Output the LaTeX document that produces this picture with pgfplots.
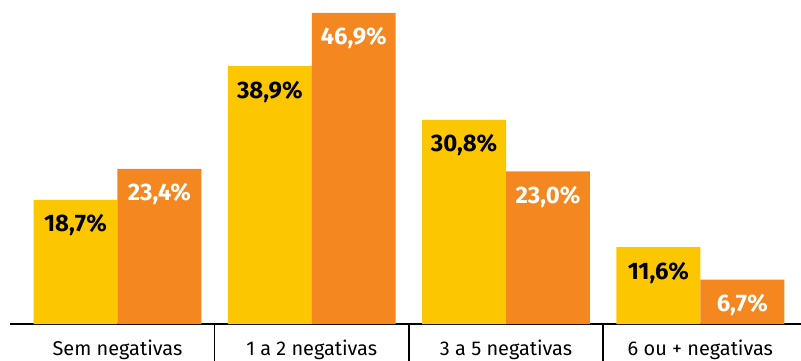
\documentclass[border=0pt]{standalone}
\usepackage{pgfplots}
\pgfplotsset{compat=1.18}
\usepackage{fontspec}
\setmainfont{Fira Sans}
\usetikzlibrary{calc}
\definecolor{cyel}{HTML}{FDC700}
\definecolor{corg}{HTML}{F58720}
\begin{document}
\begin{tikzpicture}
\begin{axis}[
 scale only axis, width=791bp, height=311bp,
 xmin=-0.553, xmax=3.518, ymin=0, ymax=46.9,
 axis x line=bottom, axis y line=none,
 axis line style={-, line width=1.6bp, black},
 xtick={0,1,2,3},
 xticklabels={Sem negativas, 1 a 2 negativas, 3 a 5 negativas, 6 ou + negativas},
 major tick length=0pt,
 xticklabel style={font=\fontsize{20}{24}\selectfont, anchor=base, yshift=-31bp},
 extra x ticks={0.5,1.5,2.5}, extra x tick labels={},
 extra x tick style={major tick length=37bp, tick align=outside, tick style={line width=1.6bp, black}},
 ybar, bar width=0.432,
 nodes near coords={\pgfmathprintnumber[fixed,fixed zerofill,precision=1,use comma,assume math mode=true]{\pgfplotspointmeta}\%},
 every node near coord/.append style={font=\fontsize{24}{28}\selectfont\bfseries, anchor=base, yshift=-32bp},
 clip=false,
]
\addplot[draw=none, fill=cyel, bar shift=-0.216, every node near coord/.append style={text=black}] coordinates {(0,18.7) (1,38.9) (2,30.8) (3,11.6)};
\addplot[draw=none, fill=corg, bar shift=0.216, every node near coord/.append style={text=white}] coordinates {(0,23.4) (1,46.9) (2,23.0) (3,6.7)};
\end{axis}
\pgfresetboundingbox
\path[use as bounding box] ($(current axis.south west)+(-10bp,-37bp)$) rectangle ($(current axis.north east)+(0bp,13bp)$);
\end{tikzpicture}
\end{document}
